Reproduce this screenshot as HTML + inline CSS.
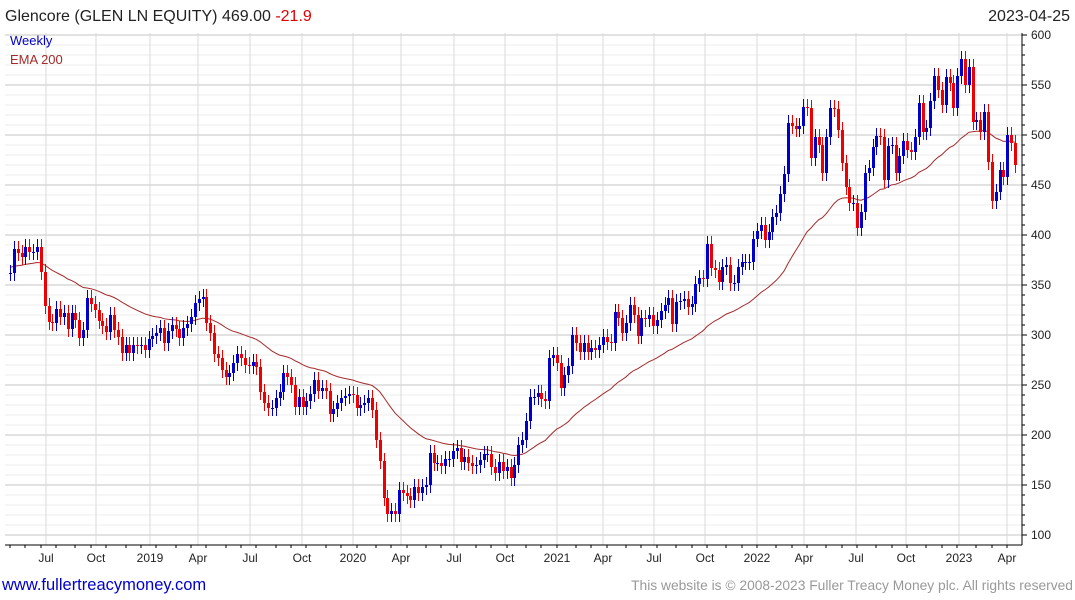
<!DOCTYPE html>
<html><head><meta charset="utf-8">
<style>
body{margin:0;background:#fff;font-family:"Liberation Sans",sans-serif;}
#wrap{position:relative;width:1075px;height:600px;overflow:hidden;}
</style></head>
<body>
<div id="wrap">
<svg id="chart" width="1075" height="600" xmlns="http://www.w3.org/2000/svg"></svg>
</div>
<script>
const closes = [362,386,382,378,388,383,383,388,363,329,313,312,326,318,322,306,322,315,297,305,337,331,325,314,309,303,320,305,298,282,290,282,290,289,290,285,296,299,302,307,292,304,310,306,297,307,311,318,332,336,338,312,302,281,277,265,258,262,272,281,277,270,269,273,268,243,232,227,227,237,243,262,258,250,228,238,228,234,241,255,244,247,244,221,226,232,237,239,241,240,227,230,232,237,225,
195,174,137,121,124,121,145,142,139,135,148,142,148,150,182,172,172,169,176,176,184,187,173,178,172,169,170,175,181,181,168,162,173,164,168,157,170,190,195,214,238,238,242,236,234,277,280,272,247,260,269,300,292,283,292,283,287,285,290,298,293,292,323,317,302,312,330,320,299,317,316,320,309,315,324,330,337,311,333,334,336,328,331,351,357,
356,391,367,365,353,368,370,352,352,368,373,373,373,396,404,410,395,403,418,422,441,461,512,509,506,509,528,527,477,498,490,462,498,527,526,505,472,448,432,432,407,423,462,467,488,499,498,455,489,490,462,479,494,485,483,498,532,503,507,534,559,545,530,558,552,527,559,576,550,568,513,515,503,523,473,434,443,465,458,500,492,470];
const firstOpen = 362;
const yTicks = [100,150,200,250,300,350,400,450,500,550,600];
const xLabels = ["Jul","Oct","2019","Apr","Jul","Oct","2020","Apr","Jul","Oct","2021","Apr","Jul","Oct","2022","Apr","Jul","Oct","2023","Apr"];
const xLabelPos = [46,96,150,198,250,302,353,401,454,505,557,603,654,705,757,804,856,906,959,1007];
const emaSeed = 368;

const svg = document.getElementById('chart');
const NS = 'http://www.w3.org/2000/svg';
const L=5, R=1022, T=33, B=545;
const y = p => 635 - p;
const x = i => 10 + i*(1005/(closes.length-1));
function mk(tag, attrs, parent){const e=document.createElementNS(NS,tag);for(const k in attrs)e.setAttribute(k,attrs[k]);(parent||svg).appendChild(e);return e;}

for(let p=100;p<=600;p+=10){
  const g=mk('line',{x1:L,x2:R,y1:y(p),y2:y(p),stroke:(p%50===0)?'#c4c4c4':'#ececec','stroke-width':1});
  
  
}
xLabelPos.forEach(px=>{
  const g=mk('line',{x1:px,x2:px,y1:T,y2:B,stroke:'#dadada','stroke-width':1});
  
  
});
const ax=mk('line',{x1:R,x2:R,y1:T,y2:B,stroke:'#000','stroke-width':1});


const bx=mk('line',{x1:L,x2:R,y1:B,y2:B,stroke:'#000','stroke-width':1});


for(let p=100;p<=600;p+=10){
  const t=mk('line',{x1:R,x2:R+(p%50===0?5:3),y1:y(p),y2:y(p),stroke:'#000'});
  
  
}
yTicks.forEach(p=>{
  const t=mk('text',{x:1031,y:y(p)+4,'font-size':12,fill:'#222'});
  t.textContent=p;
  
  
});
for(let i=0;i<closes.length;i+=4.33){
  const px=Math.round(x(Math.floor(i)));
  const t=mk('line',{x1:px,x2:px,y1:B,y2:B+3,stroke:'#000'});
  
  
}
xLabels.forEach((s,i)=>{
  const t=mk('text',{x:xLabelPos[i],y:562,'font-size':12,fill:'#222','text-anchor':'middle'});
  t.textContent=s;
  
  
});
let ema=emaSeed, pts=[];
const k=2/(40+1);
closes.forEach((c,i)=>{ema=c*k+ema*(1-k);pts.push(x(i).toFixed(1)+','+y(ema).toFixed(1));});
const el=mk('polyline',{points:pts.join(' '),fill:'none',stroke:'#a52a2a','stroke-width':1});


closes.forEach((c,i)=>{
  const o = i===0?firstOpen:closes[i-1];
  const up = c>=o, col = up?'#0000cc':'#ee0000';
  const hi=Math.max(o,c)+8, lo=Math.min(o,c)-8;
  const cx=Math.round(x(i))+0.5;
  const w=mk('line',{x1:cx,x2:cx,y1:y(hi),y2:y(lo),stroke:col,'stroke-width':1});
  
  
  const b=mk('rect',{x:cx-1.5,y:y(Math.max(o,c)),width:3,height:Math.max(1,Math.abs(o-c)),fill:col});
  
  
});
function txt(s,a,name){const t=mk('text',a);t.textContent=s;return t;}
const title=txt('',{x:5,y:21,'font-size':16,fill:'#222'},'chart-title');
title.innerHTML='Glencore (GLEN LN EQUITY) 469.00 <tspan fill="#e00000">-21.9</tspan>';
txt('2023-04-25',{x:1070,y:21,'font-size':16,fill:'#222','text-anchor':'end'},'chart-date');
txt('Weekly',{x:10,y:45,'font-size':13,fill:'#0000cc'},'legend-weekly');
txt('EMA 200',{x:10,y:64,'font-size':13,fill:'#a52a2a'},'legend-ema-200');
const link=txt('www.fullertreacymoney.com',{x:2,y:590,'font-size':16.5,fill:'#0000cc'},'website-link');

txt('This website is © 2008-2023 Fuller Treacy Money plc. All rights reserved',{x:1073,y:590,'font-size':13.8,fill:'#999','text-anchor':'end'},'copyright-notice');
</script>
</body></html>
